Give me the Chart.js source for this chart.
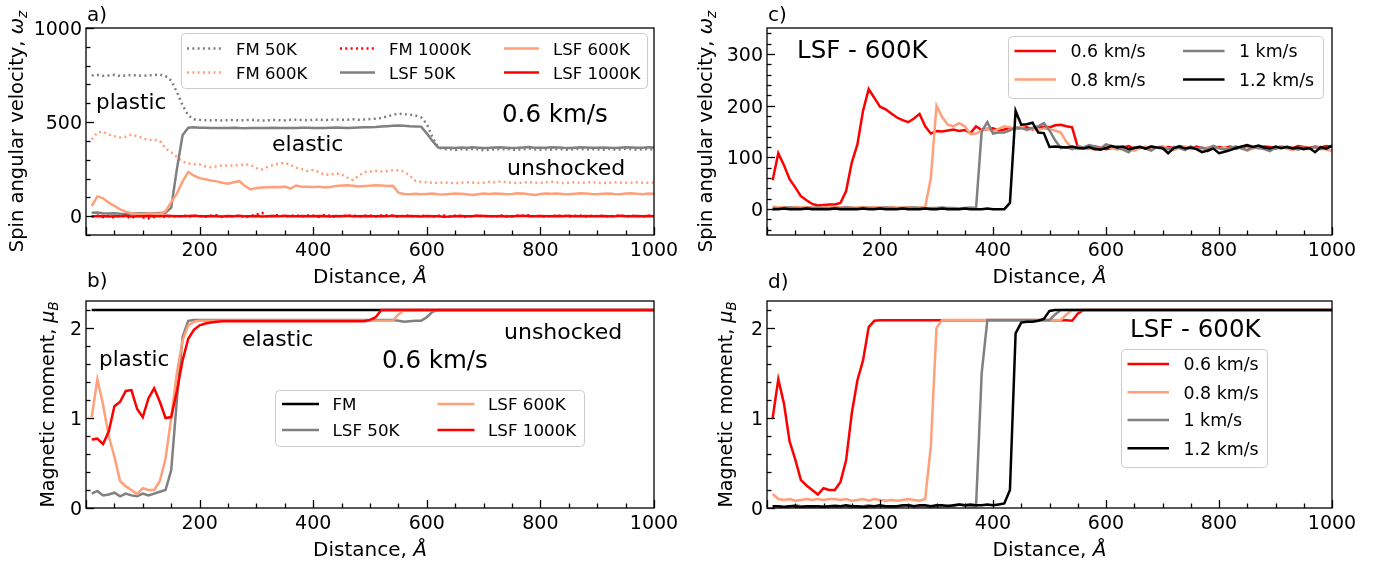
<!DOCTYPE html>
<html lang="en">
<head>
<meta charset="utf-8">
<title>Spin angular velocity and magnetic moment behind the shock</title>
<script src="https://cdn.jsdelivr.net/npm/chart.js@4.4.1/dist/chart.umd.min.js"></script>
<style>
  html, body { margin: 0; padding: 0; background: #fff; }
  #figure { position: relative; width: 1394px; height: 568px; overflow: hidden; }
  #figure canvas { position: absolute; }
</style>
</head>
<body>
<div id="figure">
  <canvas id="panelA" width="697" height="292" style="left:0;top:0"></canvas>
  <canvas id="panelB" width="697" height="306" style="left:0;top:262px"></canvas>
  <canvas id="panelC" width="697" height="292" style="left:697px;top:0"></canvas>
  <canvas id="panelD" width="697" height="306" style="left:697px;top:262px"></canvas>
</div>
<script>
// sampling positions along the sample, Å
const distance = [
  10, 20, 30, 40, 50, 60, 70, 80, 90, 100,
  110, 120, 130, 140, 150, 160, 170, 180, 190, 200,
  210, 220, 230, 240, 250, 260, 270, 280, 290, 300,
  310, 320, 330, 340, 350, 360, 370, 380, 390, 400,
  410, 420, 430, 440, 450, 460, 470, 480, 490, 500,
  510, 520, 530, 540, 550, 560, 570, 580, 590, 600,
  610, 620, 630, 640, 650, 660, 670, 680, 690, 700,
  710, 720, 730, 740, 750, 760, 770, 780, 790, 800,
  810, 820, 830, 840, 850, 860, 870, 880, 890, 900,
  910, 920, 930, 940, 950, 960, 970, 980, 990, 1000
];

// a) spin angular velocity, 0.6 km/s
const fm50KOmega = [
  748, 750, 746, 748, 751, 745, 748, 750, 748, 746,
  748, 750, 752, 745, 720, 660, 590, 535, 515, 512,
  510, 509, 510, 508, 510, 511, 509, 510, 512, 510,
  508, 510, 511, 510, 509, 512, 513, 511, 510, 512,
  513, 511, 512, 514, 512, 513, 515, 512, 514, 516,
  518, 522, 530, 538, 545, 542, 540, 535, 525, 490,
  420, 365, 355, 357, 352, 356, 354, 358, 355, 350,
  353, 356, 355, 358, 354, 352, 356, 359, 355, 353,
  356, 354, 357, 355, 352, 356, 358, 354, 356, 355,
  353, 357, 355, 354, 358, 356, 353, 355, 357, 355
];
const fm600KOmega = [
  408, 445, 448, 434, 425, 418, 422, 434, 425, 415,
  404, 406, 400, 360, 340, 315, 290, 280, 277, 275,
  265, 260, 265, 270, 268, 270, 272, 275, 272, 255,
  248, 262, 272, 280, 284, 272, 258, 250, 240, 245,
  235, 220, 222, 226, 222, 205, 192, 215, 235, 238,
  240, 238, 240, 244, 244, 237, 215, 188, 182, 180,
  178, 176, 180, 177, 175, 178, 180, 179, 176, 178,
  182, 180, 185, 180, 178, 176, 179, 181, 178, 177,
  180, 183, 179, 176, 178, 180, 177, 179, 181, 178,
  176, 178, 180, 179, 177, 178, 180, 178, 177, 179
];
const fm1000KOmega = [
  -2, 3, -5, 2, -8, 4, -3, -10, 2, -6,
  -12, -4, 3, -5, 2, -3, 4, -2, 3, 1,
  -3, 2, 5, -4, 1, -2, 3, -6, 2, 8,
  18, -5, 3, 6, -3, 2, 5, -2, 4, 3,
  -3, 6, 2, -4, 3, 1, 5, -3, 2, 4,
  -2, 3, 5, 2, -3, 4, 2, -2, 3, 1,
  -3, 2, 4, -2, 3, 1, -4, 2, 3, -1,
  2, -3, 4, 1, -2, 3, 2, 5, -1, 2,
  -2, 3, 1, 4, -3, 2, 3, -1, 2, 1,
  3, -2, 2, 4, -1, 3, 1, -2, 2, 1
];
const lsf50KOmega = [
  18, 20, 16, 14, 15, 13, 12, 14, 15, 16,
  15, 16, 17, 18, 45, 250, 430, 470, 472, 470,
  470, 469, 468, 468, 469, 470, 468, 467, 468, 469,
  468, 469, 470, 469, 468, 468, 469, 470, 470, 469,
  468, 469, 470, 471, 470, 469, 470, 471, 472, 473,
  474, 476, 478, 480, 482, 480, 478, 477, 476, 440,
  400, 365, 363, 364, 362, 365, 363, 366, 364, 362,
  363, 365, 366, 364, 362, 363, 365, 367, 364, 363,
  364, 366, 365, 363, 362, 364, 366, 365, 363, 364,
  365, 364, 362, 364, 366, 365, 363, 364, 366, 365
];
const lsf600KOmega = [
  53, 105, 95, 72, 55, 36, 24, 16, 13, 12,
  14, 13, 13, 25, 75, 120, 185, 235, 215, 202,
  196, 190, 185, 178, 172, 180, 186, 160, 142, 150,
  153, 154, 155, 154, 157, 146, 163, 157, 156, 155,
  157, 152, 155, 160, 163, 165, 162, 158, 160, 162,
  164, 163, 161, 162, 125, 118, 117, 119, 116, 118,
  120, 117, 115, 118, 121, 119, 116, 112, 117, 120,
  118, 121, 119, 116, 118, 122, 120, 117, 113, 118,
  120, 119, 121, 118, 116, 119, 122, 120, 118, 117,
  119, 121, 118, 116, 120, 122, 119, 117, 120, 119
];
const lsf1000KOmega = [
  0, -1, 1, -2, 0, -1, 2, -2, -1, 0,
  1, -1, 0, 2, 1, -1, 0, 1, 2, 0,
  -1, 1, 0, -2, 1, 0, 2, -1, 0, 1,
  -2, 0, 1, -1, 2, 0, -1, 1, 0, -1,
  1, 0, -2, 1, 0, 2, -1, 0, 1, -1,
  0, 1, -1, 2, 0, -1, 1, 0, -2, 1,
  0, -1, -3, -2, 0, 1, -1, 0, 2, 1,
  -1, 0, 1, -2, 0, 1, 2, 0, -1, 1,
  0, -1, 1, 0, 2, -1, 0, 1, -1, 0,
  1, 0, -1, 2, 0, -1, 1, 0, 1, 0
];

// b) magnetic moment, 0.6 km/s
const fmDistance = [10, 1000];
const fmMoment = [2.2, 2.2];
const lsf50KMoment = [
  0.16, 0.19, 0.14, 0.15, 0.17, 0.13, 0.16, 0.14, 0.13, 0.16,
  0.14, 0.16, 0.18, 0.2, 0.42, 1.2, 1.9, 2.08, 2.09, 2.09,
  2.09, 2.09, 2.09, 2.09, 2.09, 2.09, 2.09, 2.09, 2.09, 2.09,
  2.09, 2.09, 2.09, 2.09, 2.09, 2.09, 2.09, 2.09, 2.09, 2.09,
  2.09, 2.09, 2.09, 2.09, 2.09, 2.09, 2.09, 2.09, 2.09, 2.09,
  2.09, 2.09, 2.09, 2.09, 2.08, 2.07, 2.075, 2.08, 2.08, 2.12,
  2.18, 2.2, 2.2, 2.2, 2.2, 2.2, 2.2, 2.2, 2.2, 2.2,
  2.2, 2.2, 2.2, 2.2, 2.2, 2.2, 2.2, 2.2, 2.2, 2.2,
  2.2, 2.2, 2.2, 2.2, 2.2, 2.2, 2.2, 2.2, 2.2, 2.2,
  2.2, 2.2, 2.2, 2.2, 2.2, 2.2, 2.2, 2.2, 2.2, 2.2
];
const lsf600KMoment = [
  1.01, 1.43, 1.15, 0.8, 0.57, 0.3, 0.24, 0.2, 0.155, 0.22,
  0.2, 0.2, 0.3, 0.55, 1.0, 1.5, 1.86, 2.03, 2.07, 2.08,
  2.08, 2.08, 2.08, 2.08, 2.08, 2.08, 2.08, 2.08, 2.08, 2.08,
  2.08, 2.08, 2.08, 2.08, 2.08, 2.08, 2.08, 2.08, 2.08, 2.08,
  2.08, 2.08, 2.08, 2.08, 2.08, 2.08, 2.08, 2.08, 2.08, 2.08,
  2.08, 2.08, 2.08, 2.08, 2.15, 2.2, 2.2, 2.2, 2.2, 2.2,
  2.2, 2.2, 2.2, 2.2, 2.2, 2.2, 2.2, 2.2, 2.2, 2.2,
  2.2, 2.2, 2.2, 2.2, 2.2, 2.2, 2.2, 2.2, 2.2, 2.2,
  2.2, 2.2, 2.2, 2.2, 2.2, 2.2, 2.2, 2.2, 2.2, 2.2,
  2.2, 2.2, 2.2, 2.2, 2.2, 2.2, 2.2, 2.2, 2.2, 2.2
];
const lsf1000KMoment = [
  0.76, 0.77, 0.71, 0.85, 1.13, 1.18, 1.3, 1.31, 1.1, 1.01,
  1.22, 1.33, 1.18, 1.0, 1.01, 1.3, 1.64, 1.88, 1.98, 2.03,
  2.05, 2.06, 2.07, 2.075, 2.075, 2.075, 2.075, 2.075, 2.075, 2.075,
  2.075, 2.075, 2.075, 2.075, 2.075, 2.075, 2.075, 2.075, 2.075, 2.075,
  2.075, 2.075, 2.075, 2.075, 2.075, 2.075, 2.075, 2.075, 2.075, 2.09,
  2.12, 2.2, 2.2, 2.2, 2.2, 2.2, 2.2, 2.2, 2.2, 2.2,
  2.2, 2.2, 2.2, 2.2, 2.2, 2.2, 2.2, 2.2, 2.2, 2.2,
  2.2, 2.2, 2.2, 2.2, 2.2, 2.2, 2.2, 2.2, 2.2, 2.2,
  2.2, 2.2, 2.2, 2.2, 2.2, 2.2, 2.2, 2.2, 2.2, 2.2,
  2.2, 2.2, 2.2, 2.2, 2.2, 2.2, 2.2, 2.2, 2.2, 2.2
];

// c) spin angular velocity, LSF 600K, by impact velocity
const v06Omega = [
  56, 108, 85, 58, 42, 25, 17, 10, 7, 8,
  9, 9, 12, 35, 90, 125, 190, 232, 215, 198,
  193, 185, 177, 172, 168, 175, 184, 160, 146, 151,
  150, 152, 154, 151, 153, 147, 160, 153, 155, 156,
  152, 154, 157, 155, 157, 158, 154, 158, 159, 158,
  162, 163, 160, 158, 120, 118, 117, 121, 119, 116,
  118, 121, 119, 122, 117, 120, 118, 121, 119, 117,
  120, 118, 122, 119, 117, 121, 118, 112, 119, 120,
  118, 121, 117, 120, 122, 119, 118, 121, 120, 117,
  121, 119, 118, 122, 120, 118, 121, 119, 122, 120
];
const v08Omega = [
  5, 3, 4, 3, 4, 3, 4, 3, 3, 4,
  3, 4, 3, 4, 3, 3, 4, 3, 4, 3,
  3, 4, 3, 3, 4, 3, 3, 4, 60, 200,
  178, 163, 160, 166, 160, 145, 146, 152, 156, 150,
  155, 160, 158, 155, 160, 152, 156, 153, 156, 155,
  152, 148, 130, 117, 116, 120, 117, 115, 119, 121,
  118, 115, 120, 117, 113, 118, 121, 116, 119, 122,
  117, 114, 119, 121, 116, 118, 115, 119, 122, 117,
  119, 116, 121, 118, 113, 117, 120, 118, 115, 119,
  121, 117, 114, 119, 118, 116, 120, 118, 115, 112
];
const v10Omega = [
  2, 1, 2, 3, 2, 1, 2, 2, 3, 2,
  1, 2, 2, 3, 2, 1, 2, 2, 1, 2,
  3, 2, 1, 2, 2, 3, 2, 1, 2, 2,
  3, 2, 2, 1, 2, 3, 2, 150, 168, 146,
  148, 148, 152, 158, 156, 154, 157, 160, 166, 152,
  133, 118, 120, 116, 122, 119, 124, 121, 117, 125,
  122, 118, 115, 110, 119, 121, 117, 113, 120, 118,
  116, 120, 118, 114, 121, 117, 119, 116, 122, 118,
  115, 119, 121, 117, 114, 120, 118, 116, 112, 119,
  117, 121, 118, 115, 119, 117, 120, 116, 118, 121
];
const v12Omega = [
  0, 0, 1, 0, 0, 0, 1, 0, 0, 0,
  0, 1, 0, 0, 0, 0, 1, 0, 0, 1,
  0, 0, 0, 1, 0, 0, 0, 1, 0, 0,
  1, 0, 0, 0, 1, 0, 0, 0, 1, 0,
  0, 0, 12, 190, 163, 164, 167, 148, 147, 120,
  121, 120, 119, 121, 118, 117, 120, 116, 115, 118,
  122, 119, 121, 116, 118, 120, 117, 121, 119, 118,
  108, 118, 121, 117, 119, 116, 110, 113, 117, 108,
  111, 114, 118, 121, 124, 120, 123, 119, 117, 121,
  118, 120, 117, 119, 116, 118, 110, 120, 117, 123
];

// d) magnetic moment, LSF 600K, by impact velocity
const v06Moment = [
  1.0, 1.43, 1.16, 0.74, 0.54, 0.31, 0.25, 0.2, 0.15, 0.22,
  0.2, 0.2, 0.29, 0.53, 1.05, 1.42, 1.64, 2.01, 2.08, 2.085,
  2.085, 2.085, 2.085, 2.085, 2.085, 2.085, 2.085, 2.085, 2.085, 2.085,
  2.085, 2.085, 2.085, 2.085, 2.085, 2.085, 2.085, 2.085, 2.085, 2.085,
  2.085, 2.085, 2.085, 2.085, 2.085, 2.085, 2.085, 2.085, 2.085, 2.085,
  2.085, 2.085, 2.085, 2.08, 2.16, 2.2, 2.2, 2.2, 2.2, 2.2,
  2.2, 2.2, 2.2, 2.2, 2.2, 2.2, 2.2, 2.2, 2.2, 2.2,
  2.2, 2.2, 2.2, 2.2, 2.2, 2.2, 2.2, 2.2, 2.2, 2.2,
  2.2, 2.2, 2.2, 2.2, 2.2, 2.2, 2.2, 2.2, 2.2, 2.2,
  2.2, 2.2, 2.2, 2.2, 2.2, 2.2, 2.2, 2.2, 2.2, 2.2
];
const v08Moment = [
  0.155, 0.1, 0.09, 0.1, 0.08, 0.09, 0.1, 0.09, 0.1, 0.09,
  0.1, 0.1, 0.09, 0.1, 0.08, 0.09, 0.1, 0.08, 0.1, 0.09,
  0.08, 0.09, 0.08, 0.09, 0.1, 0.09, 0.08, 0.1, 0.69, 2.0,
  2.09, 2.09, 2.09, 2.09, 2.09, 2.09, 2.09, 2.09, 2.09, 2.09,
  2.09, 2.09, 2.09, 2.09, 2.09, 2.09, 2.09, 2.09, 2.09, 2.09,
  2.09, 2.09, 2.15, 2.2, 2.2, 2.2, 2.2, 2.2, 2.2, 2.2,
  2.2, 2.2, 2.2, 2.2, 2.2, 2.2, 2.2, 2.2, 2.2, 2.2,
  2.2, 2.2, 2.2, 2.2, 2.2, 2.2, 2.2, 2.2, 2.2, 2.2,
  2.2, 2.2, 2.2, 2.2, 2.2, 2.2, 2.2, 2.2, 2.2, 2.2,
  2.2, 2.2, 2.2, 2.2, 2.2, 2.2, 2.2, 2.2, 2.2, 2.2
];
const v10Moment = [
  0.02, 0.02, 0.01, 0.02, 0.03, 0.02, 0.02, 0.01, 0.02, 0.02,
  0.02, 0.03, 0.02, 0.02, 0.01, 0.02, 0.02, 0.03, 0.02, 0.02,
  0.02, 0.01, 0.02, 0.02, 0.03, 0.02, 0.02, 0.02, 0.01, 0.02,
  0.02, 0.03, 0.02, 0.04, 0.03, 0.02, 0.02, 1.5, 2.09, 2.09,
  2.09, 2.09, 2.09, 2.09, 2.09, 2.09, 2.09, 2.09, 2.09, 2.09,
  2.15, 2.2, 2.2, 2.2, 2.2, 2.2, 2.2, 2.2, 2.2, 2.2,
  2.2, 2.2, 2.2, 2.2, 2.2, 2.2, 2.2, 2.2, 2.2, 2.2,
  2.2, 2.2, 2.2, 2.2, 2.2, 2.2, 2.2, 2.2, 2.2, 2.2,
  2.2, 2.2, 2.2, 2.2, 2.2, 2.2, 2.2, 2.2, 2.2, 2.2,
  2.2, 2.2, 2.2, 2.2, 2.2, 2.2, 2.2, 2.2, 2.2, 2.2
];
const v12Moment = [
  0.02, 0.02, 0.01, 0.02, 0.02, 0.01, 0.02, 0.02, 0.02, 0.01,
  0.02, 0.02, 0.02, 0.03, 0.02, 0.02, 0.01, 0.02, 0.02, 0.03,
  0.02, 0.02, 0.02, 0.03, 0.03, 0.02, 0.03, 0.03, 0.02, 0.03,
  0.03, 0.02, 0.03, 0.04, 0.03, 0.04, 0.03, 0.03, 0.04, 0.03,
  0.04, 0.05, 0.2, 1.94, 2.06, 2.07, 2.07, 2.08, 2.1, 2.19,
  2.2, 2.2, 2.2, 2.2, 2.2, 2.2, 2.2, 2.2, 2.2, 2.2,
  2.2, 2.2, 2.2, 2.2, 2.2, 2.2, 2.2, 2.2, 2.2, 2.2,
  2.2, 2.2, 2.2, 2.2, 2.2, 2.2, 2.2, 2.2, 2.2, 2.2,
  2.2, 2.2, 2.2, 2.2, 2.2, 2.2, 2.2, 2.2, 2.2, 2.2,
  2.2, 2.2, 2.2, 2.2, 2.2, 2.2, 2.2, 2.2, 2.2, 2.2
];

const RED = '#ff0000';
const SALMON = '#ffa07a';
const GREY = '#808080';
const BLACK = '#000000';
const DOTTED = [2, 3.3];

const omegaTitle = [{ t: 'Spin angular velocity, ' }, { t: 'ω', it: true }, { t: 'z', it: true, sub: true }];
const momentTitle = [{ t: 'Magnetic moment, ' }, { t: 'μ', it: true }, { t: 'B', it: true, sub: true }];
const distanceTitle = [{ t: 'Distance, ' }, { t: 'Å', it: true }];

// page coordinates; each canvas subtracts its own offset
const panels = [
  {
    id: 'panelA', left: 0, top: 0,
    area: { left: 86, right: 654, top: 28, bottom: 235 },
    y: { min: -100, max: 1000, major: 500, minor: 100 },
    yTitle: omegaTitle, yTitleX: 23, yTitleSize: 19.5,
    letter: { t: 'a)', x: 87, y: 21 },
    series: [
      { label: 'FM 50K', x: distance, y: fm50KOmega, color: GREY, dash: DOTTED },
      { label: 'FM 600K', x: distance, y: fm600KOmega, color: SALMON, dash: DOTTED },
      { label: 'FM 1000K', x: distance, y: fm1000KOmega, color: RED, dash: DOTTED },
      { label: 'LSF 50K', x: distance, y: lsf50KOmega, color: GREY },
      { label: 'LSF 600K', x: distance, y: lsf600KOmega, color: SALMON },
      { label: 'LSF 1000K', x: distance, y: lsf1000KOmega, color: RED }
    ],
    legend: { box: [181, 33, 466, 55], cols: [187, 340, 504], rows: [48.5, 72.5], line: 35, gap: 49, size: 16.5 },
    notes: [
      { t: 'plastic', x: 96, y: 109, size: 21.5 },
      { t: 'elastic', x: 272, y: 151, size: 22 },
      { t: '0.6 km/s', x: 502, y: 122, size: 24.5 },
      { t: 'unshocked', x: 507, y: 175, size: 22 }
    ]
  },
  {
    id: 'panelB', left: 0, top: 262,
    area: { left: 86, right: 654, top: 301, bottom: 508 },
    y: { min: 0, max: 2.3, major: 1, minor: 0.2 },
    yTitle: momentTitle, yTitleX: 54, yTitleSize: 19,
    letter: { t: 'b)', x: 87, y: 287 },
    series: [
      { label: 'FM', x: fmDistance, y: fmMoment, color: BLACK },
      { label: 'LSF 50K', x: distance, y: lsf50KMoment, color: GREY },
      { label: 'LSF 600K', x: distance, y: lsf600KMoment, color: SALMON },
      { label: 'LSF 1000K', x: distance, y: lsf1000KMoment, color: RED }
    ],
    legend: { box: [275, 390, 309, 56], cols: [282, 437.5], rows: [404, 430], line: 37, gap: 50.5, size: 16.7 },
    notes: [
      { t: 'plastic', x: 99, y: 366, size: 21.5 },
      { t: 'elastic', x: 242, y: 346, size: 22 },
      { t: 'unshocked', x: 504, y: 339, size: 22 },
      { t: '0.6 km/s', x: 382, y: 368, size: 24.5 }
    ]
  },
  {
    id: 'panelC', left: 697, top: 0,
    area: { left: 767, right: 1332, top: 28, bottom: 235 },
    y: { min: -50, max: 350, major: 100, minor: 20 },
    yTitle: omegaTitle, yTitleX: 712, yTitleSize: 19.5,
    letter: { t: 'c)', x: 768, y: 21 },
    series: [
      { label: '0.6 km/s', x: distance, y: v06Omega, color: RED },
      { label: '0.8 km/s', x: distance, y: v08Omega, color: SALMON },
      { label: '1 km/s', x: distance, y: v10Omega, color: GREY },
      { label: '1.2 km/s', x: distance, y: v12Omega, color: BLACK }
    ],
    legend: { box: [1008, 36, 315, 62], cols: [1014.5, 1183], rows: [51, 79.5], line: 41.5, gap: 56, size: 17.4 },
    notes: [
      { t: 'LSF - 600K', x: 797, y: 58, size: 24.5 }
    ]
  },
  {
    id: 'panelD', left: 697, top: 262,
    area: { left: 767, right: 1332, top: 301, bottom: 508 },
    y: { min: 0, max: 2.3, major: 1, minor: 0.2 },
    yTitle: momentTitle, yTitleX: 732, yTitleSize: 19,
    letter: { t: 'd)', x: 768, y: 288 },
    series: [
      { label: '0.6 km/s', x: distance, y: v06Moment, color: RED },
      { label: '0.8 km/s', x: distance, y: v08Moment, color: SALMON },
      { label: '1 km/s', x: distance, y: v10Moment, color: GREY },
      { label: '1.2 km/s', x: distance, y: v12Moment, color: BLACK }
    ],
    legend: { box: [1121, 349, 146, 118], cols: [1127.5], rows: [364, 392.3, 420, 448.3], line: 41.5, gap: 56, size: 17.4 },
    notes: [
      { t: 'LSF - 600K', x: 1130, y: 337, size: 24.5 }
    ]
  }
];

const X_AXIS = { min: 0, max: 1000, major: 200, minor: 50 };

function fontOf(size, italic) {
  return (italic ? 'italic ' : '') + size + 'px "DejaVu Sans", sans-serif';
}

function richWidth(ctx, parts, size) {
  let w = 0;
  parts.forEach(p => {
    ctx.font = fontOf(p.sub ? size * 0.7 : size, p.it);
    w += ctx.measureText(p.t).width;
  });
  return w;
}

function drawRich(ctx, parts, x, y, size) {
  ctx.textAlign = 'left';
  ctx.textBaseline = 'alphabetic';
  parts.forEach(p => {
    ctx.font = fontOf(p.sub ? size * 0.7 : size, p.it);
    ctx.fillText(p.t, x, y + (p.sub ? size * 0.22 : 0));
    x += ctx.measureText(p.t).width;
  });
}

function eachTick(min, max, minor, major, fn) {
  for (let k = Math.ceil(min / minor - 1e-9); k * minor <= max + 1e-9; k++) {
    const v = +(k * minor).toFixed(6);
    fn(v, Math.abs(v / major - Math.round(v / major)) < 1e-6);
  }
}

function roundRectPath(ctx, x, y, w, h, r) {
  ctx.beginPath();
  ctx.moveTo(x + r, y);
  ctx.lineTo(x + w - r, y);
  ctx.arcTo(x + w, y, x + w, y + r, r);
  ctx.lineTo(x + w, y + h - r);
  ctx.arcTo(x + w, y + h, x + w - r, y + h, r);
  ctx.lineTo(x + r, y + h);
  ctx.arcTo(x, y + h, x, y + h - r, r);
  ctx.lineTo(x, y + r);
  ctx.arcTo(x, y, x + r, y, r);
  ctx.closePath();
}

function drawLegend(ctx, lg, series, ox, oy) {
  const [bx, by, bw, bh] = lg.box;
  roundRectPath(ctx, bx - ox + 0.5, by - oy + 0.5, bw, bh, 4);
  ctx.fillStyle = 'rgba(255,255,255,0.8)';
  ctx.fill();
  ctx.strokeStyle = '#cccccc';
  ctx.lineWidth = 1;
  ctx.stroke();

  // entries fill the legend column by column
  series.forEach((s, i) => {
    const col = Math.floor(i / lg.rows.length);
    const row = i % lg.rows.length;
    const x0 = lg.cols[col] - ox;
    const y0 = lg.rows[row] - oy;
    ctx.strokeStyle = s.color;
    ctx.lineWidth = 2.5;
    ctx.setLineDash(s.dash || []);
    ctx.beginPath();
    ctx.moveTo(x0, y0);
    ctx.lineTo(x0 + lg.line, y0);
    ctx.stroke();
    ctx.setLineDash([]);
    ctx.fillStyle = '#000';
    ctx.font = fontOf(lg.size);
    ctx.textAlign = 'left';
    ctx.textBaseline = 'alphabetic';
    ctx.fillText(s.label, x0 + lg.gap, y0 + lg.size * 0.365);
  });
}

// frame, inward ticks, labels, legend and annotations
function decor(panel) {
  return {
    id: 'decor',
    afterDraw(chart) {
      const ctx = chart.ctx;
      const a = chart.chartArea;
      const xs = chart.scales.x;
      const ys = chart.scales.y;
      const ox = panel.left;
      const oy = panel.top;
      const tickSize = 19;

      ctx.save();
      ctx.strokeStyle = '#000';
      ctx.fillStyle = '#000';
      ctx.lineWidth = 1.3;

      ctx.font = fontOf(tickSize);
      ctx.textBaseline = 'alphabetic';
      eachTick(X_AXIS.min, X_AXIS.max, X_AXIS.minor, X_AXIS.major, (v, major) => {
        const px = Math.round(xs.getPixelForValue(v)) + 0.5;
        ctx.beginPath();
        ctx.moveTo(px, a.bottom);
        ctx.lineTo(px, a.bottom - (major ? 8 : 4.5));
        ctx.stroke();
        if (major && v !== 0) {
          ctx.textAlign = 'center';
          ctx.fillText(String(v), xs.getPixelForValue(v), a.bottom + 21);
        }
      });
      eachTick(panel.y.min, panel.y.max, panel.y.minor, panel.y.major, (v, major) => {
        const py = Math.round(ys.getPixelForValue(v)) + 0.5;
        ctx.beginPath();
        ctx.moveTo(a.left, py);
        ctx.lineTo(a.left + (major ? 8 : 4.5), py);
        ctx.stroke();
        if (major) {
          ctx.textAlign = 'right';
          ctx.fillText(String(v), a.left - 4, ys.getPixelForValue(v) + tickSize * 0.365);
        }
      });

      ctx.strokeRect(a.left, a.top, a.right - a.left, a.bottom - a.top);

      drawLegend(ctx, panel.legend, panel.series, ox, oy);

      ctx.fillStyle = '#000';
      panel.notes.forEach(n => {
        ctx.font = fontOf(n.size);
        ctx.textAlign = 'left';
        ctx.fillText(n.t, n.x - ox, n.y - oy);
      });

      ctx.font = fontOf(20);
      ctx.textAlign = 'left';
      ctx.fillText(panel.letter.t, panel.letter.x - ox, panel.letter.y - oy);

      const xw = richWidth(ctx, distanceTitle, 20);
      drawRich(ctx, distanceTitle, (a.left + a.right) / 2 - xw / 2, a.bottom + 48, 20);

      const yw = richWidth(ctx, panel.yTitle, panel.yTitleSize);
      ctx.translate(panel.yTitleX - ox, (a.top + a.bottom) / 2);
      ctx.rotate(-Math.PI / 2);
      drawRich(ctx, panel.yTitle, -yw / 2, 0, panel.yTitleSize);
      ctx.restore();
    }
  };
}

function buildChart(panel) {
  const canvas = document.getElementById(panel.id);
  const W = canvas.width;
  const H = canvas.height;
  const area = {
    left: panel.area.left - panel.left,
    right: panel.area.right - panel.left,
    top: panel.area.top - panel.top,
    bottom: panel.area.bottom - panel.top
  };
  const n = panel.series.length;

  return new Chart(canvas, {
    type: 'line',
    data: {
      datasets: panel.series.map((s, i) => ({
        label: s.label,
        data: s.x.map((x, k) => ({ x: x, y: s.y[k] })),
        borderColor: s.color,
        borderWidth: 2.5,
        borderDash: s.dash || [],
        pointRadius: 0,
        fill: false,
        tension: 0,
        order: n - i
      }))
    },
    options: {
      responsive: false,
      animation: false,
      layout: { padding: { left: 0, top: area.top, right: W - area.right, bottom: 0 } },
      plugins: {
        legend: { display: false },
        tooltip: { enabled: false }
      },
      scales: {
        x: {
          type: 'linear',
          min: X_AXIS.min,
          max: X_AXIS.max,
          ticks: { display: false, stepSize: X_AXIS.major },
          grid: { display: false },
          border: { display: false },
          afterFit: s => { s.height = H - area.bottom; }
        },
        y: {
          type: 'linear',
          min: panel.y.min,
          max: panel.y.max,
          ticks: { display: false, stepSize: panel.y.major },
          grid: { display: false },
          border: { display: false },
          afterFit: s => { s.width = area.left; }
        }
      }
    },
    plugins: [decor(panel)]
  });
}

panels.forEach(buildChart);
</script>
</body>
</html>
